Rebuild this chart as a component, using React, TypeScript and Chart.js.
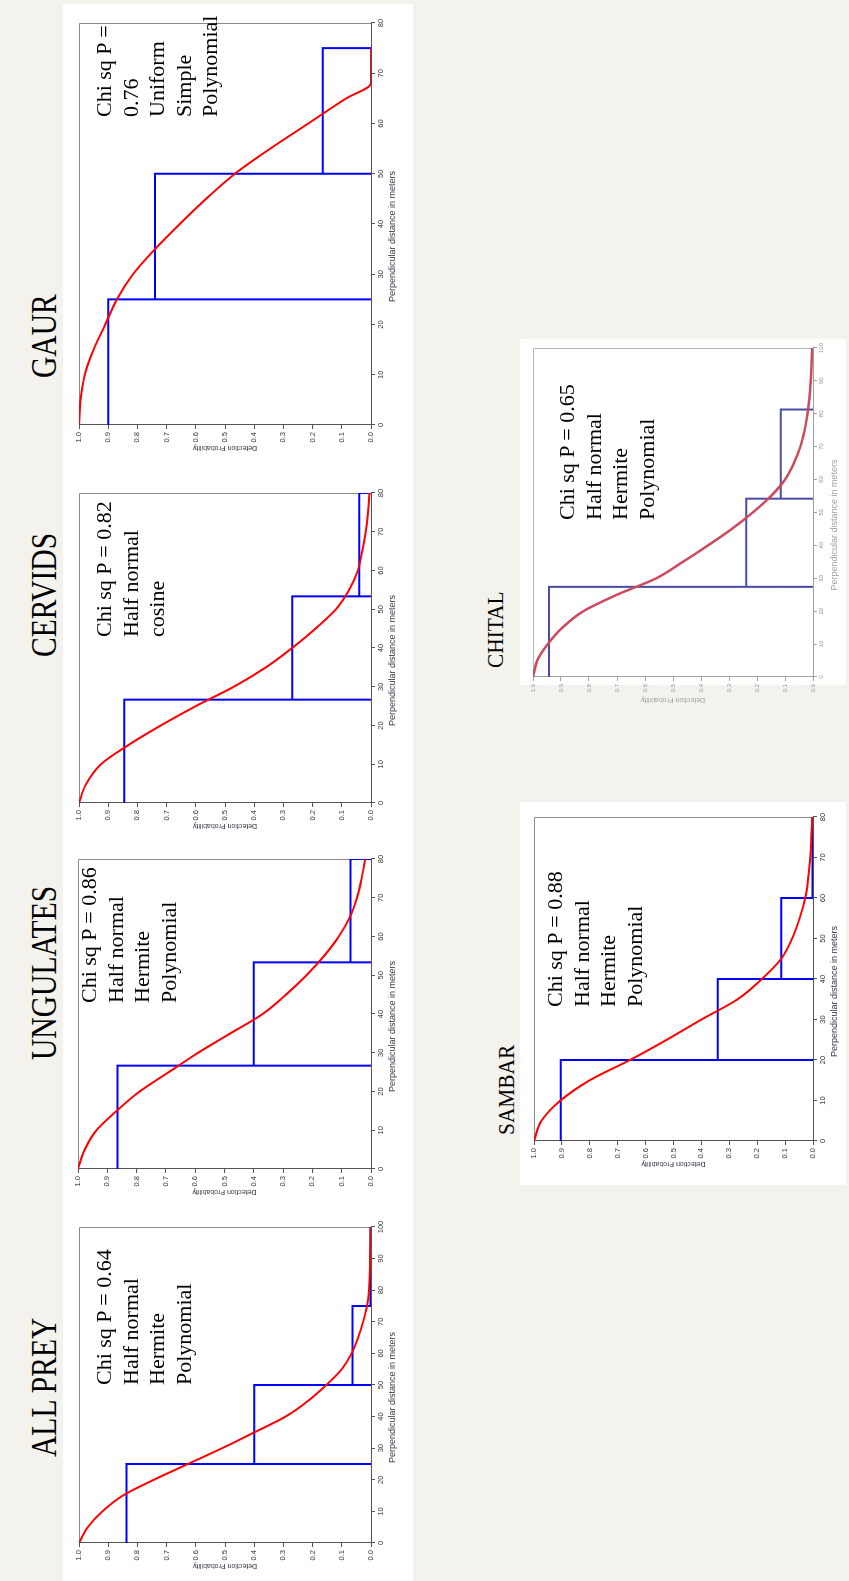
import React, { useEffect, useRef } from "react";
import { Chart, registerables } from "chart.js";

Chart.register(...registerables);

// ---------------- data ----------------
const curveDist80 = [0, 5, 10, 15, 20, 25, 30, 35, 40, 45, 50, 55, 60, 65, 70, 75, 80];

const gaurBinEdges = [0, 25, 50, 75];
const gaurBinHeights = [0.9, 0.74, 0.165];
const gaurCurveDist = [0, 5, 10, 15, 20, 25, 30, 35, 40, 45, 50, 55, 60, 65, 68, 75];
const gaurCurveProb = [1.0, 0.995, 0.98, 0.95, 0.91, 0.87, 0.815, 0.74, 0.655, 0.565, 0.466, 0.345, 0.215, 0.085, 0.0, 0.0];

const cervidsBinEdges = [0, 26.67, 53.33, 80];
const cervidsBinHeights = [0.845, 0.27, 0.04];
const cervidsCurveProb = [1.0, 0.975, 0.925, 0.83, 0.72, 0.6, 0.47, 0.36, 0.27, 0.19, 0.12, 0.075, 0.045, 0.03, 0.018, 0.01, 0.005];

const ungulatesBinEdges = [0, 26.67, 53.33, 80];
const ungulatesBinHeights = [0.865, 0.4, 0.07];
const ungulatesCurveProb = [1.0, 0.977, 0.937, 0.868, 0.79, 0.69, 0.59, 0.48, 0.37, 0.29, 0.22, 0.16, 0.11, 0.072, 0.048, 0.032, 0.02];

const allPreyBinEdges = [0, 25, 50, 75, 100];
const allPreyBinHeights = [0.837, 0.4, 0.063, 0.002];
const allPreyCurveDist = [0, 5, 10, 15, 20, 25, 30, 35, 40, 45, 50, 55, 60, 65, 70, 75, 80, 90, 100];
const allPreyCurveProb = [1.0, 0.97, 0.92, 0.85, 0.744, 0.627, 0.51, 0.4, 0.293, 0.215, 0.153, 0.1, 0.066, 0.044, 0.027, 0.014, 0.007, 0.003, 0.001];

const sambarBinEdges = [0, 20, 40, 60, 80];
const sambarBinHeights = [0.904, 0.341, 0.114, 0.002];
const sambarCurveProb = [1.0, 0.973, 0.905, 0.8, 0.656, 0.524, 0.4, 0.27, 0.183, 0.114, 0.075, 0.048, 0.028, 0.017, 0.01, 0.006, 0.003];

const chitalBinEdges = [0, 27.4, 54.2, 81.3];
const chitalBinHeights = [0.943, 0.238, 0.115];
const chitalCurveDist = [0, 5, 10, 15, 20, 25, 30, 35, 40, 45, 50, 55, 60, 65, 70, 75, 80, 90, 100];
const chitalCurveProb = [1.0, 0.985, 0.947, 0.895, 0.82, 0.7, 0.56, 0.465, 0.375, 0.29, 0.215, 0.15, 0.1, 0.068, 0.045, 0.03, 0.02, 0.008, 0.003];

const xTitle = "Perpendicular distance in meters";
const yTitle = "Detection Probability";

// ---------------- layout helpers ----------------
const PAGE_W = 849;
const PAGE_H = 1581;
// portrait rect -> landscape rect (the slide is rotated -90deg)
type PRect = { x0: number; y0: number; x1: number; y1: number };
function land(r: PRect) {
  return { left: PAGE_H - r.y1, top: r.x0, width: r.y1 - r.y0, height: r.x1 - r.x0 };
}

const YW = 31;
const XH = 31;
const PT = 8;
const PR = 8;

const framePlugin = {
  id: "frame",
  beforeDatasetsDraw(chart: any, _args: any, opts: any) {
    const { ctx, chartArea: a } = chart;
    ctx.save();
    ctx.strokeStyle = opts.color || "#888";
    ctx.lineWidth = 1;
    ctx.beginPath();
    const top = Math.round(a.top) + 0.5;
    const right = Math.round(a.right) - 0.5;
    ctx.moveTo(Math.round(a.left), top);
    ctx.lineTo(right, top);
    ctx.lineTo(right, Math.round(a.bottom));
    ctx.stroke();
    ctx.restore();
  },
};

type PlotSpec = {
  frame: PRect;
  xMax: number;
  edges: number[];
  heights: number[];
  curveX: number[];
  curveY: number[];
  barColor: string;
  curveColor: string;
  curveWidth: number;
  frameColor: string;
  axisColor: string;
  tickColor: string;
  tickSize: number;
  titleColor: string;
};

function Plot({ spec }: { spec: PlotSpec }) {
  const ref = useRef<HTMLCanvasElement | null>(null);
  const pl = land(spec.frame);
  const left = pl.left - YW;
  const top = pl.top - PT;
  const width = pl.width + YW + PR;
  const height = pl.height + PT + XH;

  useEffect(() => {
    if (!ref.current) return;
    const hist: { x: number; y: number }[] = [];
    for (let i = 0; i < spec.heights.length; i++) {
      hist.push({ x: spec.edges[i], y: spec.heights[i] });
      hist.push({ x: spec.edges[i + 1], y: spec.heights[i] });
      hist.push({ x: spec.edges[i + 1], y: 0 });
    }
    const curve = spec.curveX.map((x, i) => ({ x, y: spec.curveY[i] }));
    const tickFont = { family: "'Liberation Sans', Arial, sans-serif", size: spec.tickSize };
    const chart = new Chart(ref.current, {
      type: "line",
      data: {
        datasets: [
          {
            data: curve,
            borderColor: spec.curveColor,
            borderWidth: spec.curveWidth,
            pointRadius: 0,
            cubicInterpolationMode: "monotone",
            fill: false,
          },
          {
            data: hist,
            borderColor: spec.barColor,
            borderWidth: 2,
            pointRadius: 0,
            tension: 0,
            fill: false,
          },
        ],
      },
      options: {
        animation: false,
        responsive: false,
        devicePixelRatio: 1,
        events: [],
        layout: { padding: { top: PT, right: PR, left: 0, bottom: 0 } },
        plugins: {
          legend: { display: false },
          tooltip: { enabled: false },
          frame: { color: spec.frameColor },
        } as any,
        scales: {
          x: {
            type: "linear",
            min: 0,
            max: spec.xMax,
            ticks: {
              stepSize: 10,
              autoSkip: false,
              maxRotation: 0,
              font: tickFont,
              color: spec.tickColor,
              padding: 1,
            },
            grid: { drawOnChartArea: false, drawTicks: true, tickLength: 4, color: spec.axisColor },
            border: { display: true, color: spec.axisColor },
            title: {
              display: true,
              text: xTitle + "\u00a0".repeat(10),
              color: spec.titleColor,
              font: { family: "'Liberation Sans', Arial, sans-serif", size: 9 },
              padding: { top: 0, bottom: 4 },
            },
            afterFit: (s: any) => {
              s.height = XH;
            },
          },
          y: {
            type: "linear",
            min: 0,
            max: 1,
            ticks: {
              stepSize: 0.1,
              autoSkip: false,
              font: tickFont,
              color: spec.tickColor,
              padding: 3,
              callback: (v: any) => Number(v).toFixed(1),
            },
            grid: { drawOnChartArea: false, drawTicks: true, tickLength: 4, color: spec.axisColor },
            border: { display: true, color: spec.axisColor },
            title: {
              display: true,
              text: yTitle,
              color: spec.titleColor,
              font: { family: "'Liberation Sans', Arial, sans-serif", size: 7 },
              padding: { top: 4, bottom: 0 },
            },
            afterFit: (s: any) => {
              s.width = YW;
            },
          },
        },
      } as any,
      plugins: [framePlugin as any],
    });
    return () => chart.destroy();
  }, []);

  return (
    <canvas
      ref={ref}
      width={width}
      height={height}
      style={{ position: "absolute", left, top, width, height }}
    />
  );
}

function WhiteBox({ r }: { r: PRect }) {
  const l = land(r);
  return <div style={{ position: "absolute", ...l, background: "#ffffff" }} />;
}

function Title({ text, startPy, top, size, sx }: { text: string; startPy: number; top: number; size: number; sx: number }) {
  return (
    <div
      style={{
        position: "absolute",
        left: PAGE_H - startPy,
        top,
        fontFamily: "'Liberation Serif', 'Times New Roman', serif",
        fontSize: size,
        lineHeight: `${size}px`,
        whiteSpace: "pre",
        color: "#000",
        transform: `scaleX(${sx})`,
        transformOrigin: "0 0",
      }}
    >
      {text}
    </div>
  );
}

function Note({ lines, startPy, top }: { lines: string[]; startPy: number; top: number }) {
  return (
    <div
      style={{
        position: "absolute",
        left: PAGE_H - startPy,
        top,
        fontFamily: "'Liberation Serif', 'Times New Roman', serif",
        fontSize: 22,
        lineHeight: "26.5px",
        whiteSpace: "pre",
        color: "#000",
      }}
    >
      {lines.map((l, i) => (
        <div key={i}>{l}</div>
      ))}
    </div>
  );
}

const plain = {
  barColor: "#0000ff",
  curveColor: "#ff0000",
  curveWidth: 2,
  frameColor: "#8a8a8a",
  axisColor: "#555555",
  tickColor: "#333333",
  tickSize: 7.5,
  titleColor: "#333344",
};

const specs: PlotSpec[] = [
  { ...plain, frame: { x0: 79, x1: 371, y0: 23, y1: 425 }, xMax: 80, edges: gaurBinEdges, heights: gaurBinHeights, curveX: gaurCurveDist, curveY: gaurCurveProb },
  { ...plain, frame: { x0: 79, x1: 371, y0: 493, y1: 803 }, xMax: 80, edges: cervidsBinEdges, heights: cervidsBinHeights, curveX: curveDist80, curveY: cervidsCurveProb },
  { ...plain, frame: { x0: 78, x1: 371, y0: 859, y1: 1169 }, xMax: 80, edges: ungulatesBinEdges, heights: ungulatesBinHeights, curveX: curveDist80, curveY: ungulatesCurveProb },
  { ...plain, frame: { x0: 79, x1: 371, y0: 1227, y1: 1543 }, xMax: 100, edges: allPreyBinEdges, heights: allPreyBinHeights, curveX: allPreyCurveDist, curveY: allPreyCurveProb },
  { ...plain, frame: { x0: 534, x1: 813, y0: 817, y1: 1141 }, xMax: 80, edges: sambarBinEdges, heights: sambarBinHeights, curveX: curveDist80, curveY: sambarCurveProb },
  {
    ...plain,
    barColor: "#4b4ba8",
    curveColor: "#cc4a5c",
    curveWidth: 2.5,
    frameColor: "#b5b5b5",
    axisColor: "#a0a0a0",
    tickColor: "#9a9a9a",
    tickSize: 6,
    titleColor: "#a0a0a0",
    frame: { x0: 533, x1: 813, y0: 348, y1: 677 },
    xMax: 100,
    edges: chitalBinEdges,
    heights: chitalBinHeights,
    curveX: chitalCurveDist,
    curveY: chitalCurveProb,
  },
];

export default function App() {
  return (
    <div
      style={{
        position: "absolute",
        left: 0,
        top: 0,
        width: PAGE_W,
        height: PAGE_H,
        background: "#f3f2ec",
        overflow: "hidden",
      }}
    >
      <div
        style={{
          position: "absolute",
          left: 0,
          top: 0,
          width: PAGE_H,
          height: PAGE_W,
          transformOrigin: "0 0",
          transform: `translate(0px, ${PAGE_H}px) rotate(-90deg)`,
        }}
      >
        <WhiteBox r={{ x0: 63, x1: 413, y0: 4, y1: 1581 }} />
        <WhiteBox r={{ x0: 520, x1: 846, y0: 339, y1: 685 }} />
        <WhiteBox r={{ x0: 520, x1: 846, y0: 802, y1: 1185 }} />

        {specs.map((s, i) => (
          <Plot key={i} spec={s} />
        ))}

        <Title text="GAUR" startPy={378} top={27} size={35} sx={0.845} />
        <Title text="CERVIDS" startPy={657} top={27} size={35} sx={0.845} />
        <Title text="UNGULATES" startPy={1060} top={27} size={35} sx={0.845} />
        <Title text="ALL PREY" startPy={1457} top={27} size={35} sx={0.845} />
        <Title text="SAMBAR" startPy={1135} top={494} size={24} sx={0.89} />
        <Title text="CHITAL" startPy={668} top={483} size={24} sx={0.89} />

        <Note lines={["Chi sq P =", "0.76", "Uniform", "Simple", "Polynomial"]} startPy={117} top={91} />
        <Note lines={["Chi sq P = 0.82", "Half normal", "cosine"]} startPy={637} top={91} />
        <Note lines={["Chi sq P = 0.86", "Half normal", "Hermite", "Polynomial"]} startPy={1003} top={76} />
        <Note lines={["Chi sq P = 0.64", "Half normal", "Hermite", "Polynomial"]} startPy={1385} top={91} />
        <Note lines={["Chi sq P = 0.88", "Half normal", "Hermite", "Polynomial"]} startPy={1007} top={542} />
        <Note lines={["Chi sq P = 0.65", "Half normal", "Hermite", "Polynomial"]} startPy={520} top={554} />
      </div>
    </div>
  );
}
